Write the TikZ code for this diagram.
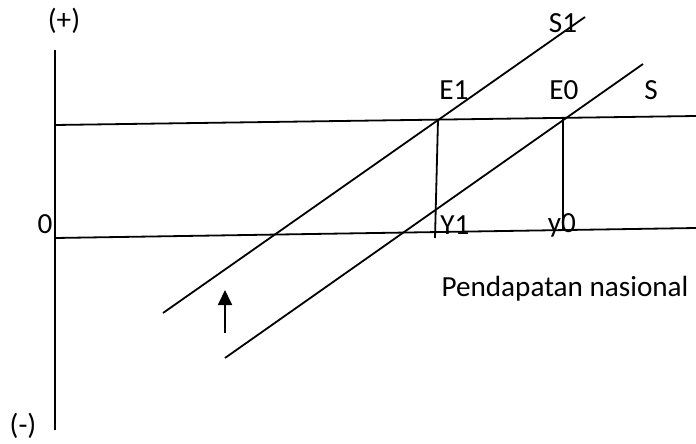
\documentclass[tikz,border=0pt]{standalone}
\usepackage{fontspec}
\setmainfont{Carlito}
\usetikzlibrary{arrows.meta}
\begin{document}
\begin{tikzpicture}[x=0.5pt,y=-0.5pt,line width=0.9pt,
  lbl/.style={inner sep=0pt,font=\fontsize{14.6}{17}\selectfont},
  uparrow/.style={-{Triangle[length=7.5pt,width=7pt]}}]
\useasboundingbox (0,0) rectangle (696,444);
% axis
\coordinate (axT) at (55,50);
\coordinate (axB) at (55,430);
\draw (axT) -- (axB);
% horizontal lines
\coordinate (uL) at (55,125);
\coordinate (uR) at (696,116);
\coordinate (lL) at (55,238);
\coordinate (lR) at (696,228);
\draw (uL) -- (uR);
\draw (lL) -- (lR);
% supply curves
\coordinate (s1a) at (163,313);
\coordinate (s1b) at (585,17);
\coordinate (sa) at (225,358);
\coordinate (sb) at (643,64);
\draw (s1a) -- (s1b);
\draw (sa) -- (sb);
% drops
\coordinate (E1) at (438,120);
\coordinate (Y1) at (435,238);
\coordinate (E0) at (563,118);
\coordinate (y0) at (563,231);
\draw (E1) -- (Y1);
\draw (E0) -- (y0);
% arrow
\coordinate (arT) at (225,333);
\coordinate (arH) at (225,290);
\draw[uparrow] (arT) -- (arH);
% labels
\node[lbl] (plus) at (64,21) {(+)};
\node[lbl] (minus) at (23,426) {(-)};
\node[lbl] (zero) at (45,224) {0};
\node[lbl] (lS1) at (563,23) {S1};
\node[lbl] (lE1) at (454,90) {E1};
\node[lbl] (lE0) at (564,90) {E0};
\node[lbl] (lS) at (651,90) {S};
\node[lbl] (lY1) at (455,225) {Y1};
\node[lbl] (ly0) at (562,225) {y0};
\node[lbl] (pn) at (565,289) {Pendapatan nasional};
\end{tikzpicture}
\end{document}
